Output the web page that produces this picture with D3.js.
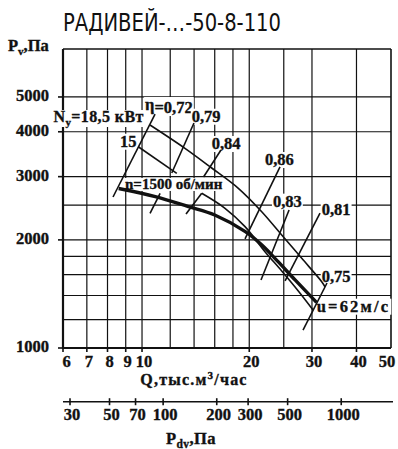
<!DOCTYPE html>
<html><head><meta charset="utf-8">
<script src="https://cdn.jsdelivr.net/npm/d3@7"></script>
<style>
body{margin:0;background:#fff;}
svg{display:block;}
text.b{stroke:#111;stroke-width:0.35px;}
</style></head><body>
<svg id="c" width="398" height="449"></svg>
<script>
// ---------- data ----------
const titleText = "РАДИВЕЙ-…-50-8-110";
const qTicks = [6, 7, 8, 9, 10, 20, 30, 40, 50];
const qGrid = [7, 8, 9, 10, 12, 14, 16, 18, 20, 25, 30, 40];
const pTicks = [1000, 2000, 3000, 4000, 5000];
const pGrid = [1200, 1400, 1600, 1800, 2000, 2500, 3000, 4000, 5000];
const pdvTicks = [30, 50, 70, 100, 200, 300, 500, 1000];

// thick pressure curve, n=1500 rpm
const mainQ = [8.6, 10.9, 13.5, 16.0, 19.5, 21.7, 24.1, 26.9, 30.9];
const mainP = [2780, 2640, 2475, 2346, 2108, 1935, 1739, 1547, 1340];
// upper thin curve
const upperQ = [10.53, 13.2, 15.69, 18.64, 21.68, 24.67, 28.08, 31.95, 32.63];
const upperP = [4177, 3597, 3171, 2784, 2396, 2064, 1777, 1530, 1481];
// lower thin curve
const lowerQ = [13.29, 14.71, 17.10, 19.46, 22.14, 24.67, 27.46, 30.2];
const lowerP = [2361, 2696, 2449, 2177, 1854, 1638, 1441, 1276];
// "15" segment
const n15Q = [9.76, 12.52];
const n15P = [3634, 3065];
// efficiency tick lines
const etaQ1 = [10.88, 13.99, 16.66, 24.40, 25.87, 31.60, 33.06, 11.24];
const etaP1 = [4482, 4231, 3558, 3192, 2422, 2376, 1517, 2696];
const etaQ2 = [8.29, 12.12, 14.88, 19.46, 21.58, 25.21, 28.31, 10.53];
const etaP2 = [2633, 3071, 2994, 2012, 1547, 1537, 1122, 2372];

// annotation labels (left edge Q, baseline P)
const labelText = ["η=0,72", "0,79", "0,84", "0,86", "0,83", "0,81", "0,75", "u=62м/с", "n=1500 об/мин", "15"];
const labelQ = [10.2, 13.79, 15.69, 22.14, 23.31, 31.95, 31.95, 30.93, 8.96, 8.67];
const labelP = [4511, 4266, 3581, 3232, 2475, 2346, 1527, 1262, 2772, 3634];

// ---------- layout ----------
const svg = d3.select("#c");
const L = 63, R = 391, T = 49, B = 348;
const x = d3.scaleLog().domain([6, 50]).range([L, R]);
const y = d3.scaleLog().domain([1000, 6800]).range([B, T]);
const kQ = 6.278 / Math.sqrt(30);
const xPdv = d3.scaleLog().domain([Math.pow(6 / kQ, 2), Math.pow(50 / kQ, 2)]).range([L, R]);

const serif = "'Liberation Serif','Times New Roman',serif";

// title
svg.append("text").attr("x", 63).attr("y", 31)
  .attr("font-family", "'Liberation Sans Narrow','DejaVu Sans Condensed','Roboto Condensed',sans-serif")
  .attr("font-size", 24).attr("fill", "#111")
  .attr("textLength", 218).attr("lengthAdjust", "spacingAndGlyphs")
  .text(titleText);

// grid
const g = svg.append("g");
g.selectAll("line.vg").data(qGrid).join("line")
  .attr("x1", d => x(d)).attr("x2", d => x(d)).attr("y1", T).attr("y2", B)
  .attr("stroke", "#111").attr("stroke-width", 1.2);
g.selectAll("line.hg").data(pGrid).join("line").attr("class","hg")
  .attr("x1", L).attr("x2", R).attr("y1", d => y(d)).attr("y2", d => y(d))
  .attr("stroke", "#111").attr("stroke-width", 1.2);

// frame
svg.append("line").attr("x1", L).attr("x2", R).attr("y1", T).attr("y2", T).attr("stroke", "#111").attr("stroke-width", 1.6);
svg.append("line").attr("x1", R).attr("x2", R).attr("y1", T).attr("y2", B).attr("stroke", "#111").attr("stroke-width", 1.6);
svg.append("line").attr("x1", L).attr("x2", L).attr("y1", T).attr("y2", B + 1).attr("stroke", "#111").attr("stroke-width", 2.2);
svg.append("line").attr("x1", L - 1).attr("x2", R).attr("y1", B).attr("y2", B).attr("stroke", "#111").attr("stroke-width", 2.2);

// y ticks + labels
svg.selectAll("line.yt").data(pTicks).join("line").attr("class","yt")
  .attr("x1", L - 5).attr("x2", L).attr("y1", d => y(d)).attr("y2", d => y(d))
  .attr("stroke", "#111").attr("stroke-width", 1.6);
svg.selectAll("text.yl").data(pTicks).join("text").attr("class","yl b")
  .attr("x", 49).attr("y", d => y(d) + 4)
  .attr("text-anchor", "end").attr("font-family", serif).attr("font-weight", "bold")
  .attr("font-size", 16.5).attr("fill", "#111").text(d => d);

// x ticks + labels
svg.selectAll("line.xt").data(qTicks.filter(d => d < 50)).join("line").attr("class","xt")
  .attr("x1", d => x(d)).attr("x2", d => x(d)).attr("y1", B).attr("y2", B + 4)
  .attr("stroke", "#111").attr("stroke-width", 1.6);
svg.selectAll("text.xl").data(qTicks).join("text").attr("class","xl b")
  .attr("x", d => x(d) + (d === 6 ? 3.5 : d === 50 ? -4 : 2)).attr("y", 367)
  .attr("text-anchor", "middle").attr("font-family", serif).attr("font-weight", "bold")
  .attr("font-size", 16.5).attr("fill", "#111").text(d => d);

// axis titles
const pv = svg.append("text").attr("class", "b").attr("x", 8).attr("y", 51).attr("font-family", serif)
  .attr("font-weight", "bold").attr("font-size", 16.5).attr("fill", "#111");
pv.append("tspan").text("P");
pv.append("tspan").attr("font-size", 11).attr("dy", 4).text("v");
pv.append("tspan").attr("dy", -4).text(",Па");

const qt = svg.append("text").attr("class", "b").attr("x", 194).attr("y", 385).attr("text-anchor", "middle")
  .attr("font-family", serif).attr("font-weight", "bold").attr("font-size", 16)
  .attr("letter-spacing", 1.2).attr("fill", "#111");
qt.append("tspan").text("Q,тыс.м");
qt.append("tspan").attr("font-size", 11).attr("dy", -6).text("3");
qt.append("tspan").attr("dy", 6).text("/час");

// Pdv axis
const ay = 401.7;
svg.append("line").attr("x1", L).attr("x2", 393).attr("y1", ay).attr("y2", ay).attr("stroke", "#111").attr("stroke-width", 1.6);
svg.selectAll("line.pt").data(pdvTicks).join("line").attr("class","pt")
  .attr("x1", d => xPdv(d)).attr("x2", d => xPdv(d)).attr("y1", ay - 3.5).attr("y2", ay + 3.5)
  .attr("stroke", "#111").attr("stroke-width", 1.6);
svg.selectAll("text.pl").data(pdvTicks).join("text").attr("class","pl b")
  .attr("x", d => xPdv(d) + 2).attr("y", 420)
  .attr("text-anchor", "middle").attr("font-family", serif).attr("font-weight", "bold")
  .attr("font-size", 16.5).attr("fill", "#111").text(d => d);
const pd = svg.append("text").attr("class", "b").attr("x", 166).attr("y", 444).attr("font-family", serif)
  .attr("font-weight", "bold").attr("font-size", 16.5).attr("letter-spacing", 0.4).attr("fill", "#111");
pd.append("tspan").text("P");
pd.append("tspan").attr("font-size", 11.5).attr("dy", 4).text("dv");
pd.append("tspan").attr("dy", -4).text(",Па");

// annotation labels with white knock-out background
const ann = svg.append("g");
function label(txt, px, py, size, spacing, parts) {
  const gg = ann.append("g");
  const t = gg.append("text").attr("class", "b").attr("x", px).attr("y", py)
    .attr("font-family", serif).attr("font-weight", "bold").attr("font-size", size)
    .attr("letter-spacing", spacing).attr("fill", "#111");
  if (parts) parts(t); else t.text(txt);
  const bb = t.node().getBBox();
  gg.insert("rect", "text").attr("x", bb.x - 1).attr("y", bb.y + 2).attr("width", bb.width + 2)
    .attr("height", bb.height - 3).attr("fill", "#fff");
}
// N label (left of plot area start)
label("", x(5.64), y(4258), 16, 0.4, t => {
  t.append("tspan").text("N");
  t.append("tspan").attr("font-size", 11).attr("dy", 4).text("y");
  t.append("tspan").attr("dy", -4).text("=18,5 кВт");
});
labelText.forEach((s, i) => {
  const size = (i === 8) ? 15 : 16.5;
  const sp = (i === 7) ? 2.2 : 0;
  if (i === 0) {
    label("", x(labelQ[i]), y(labelP[i]), size, 0, t => {
      t.append("tspan").attr("dy", -3).text("η");
      t.append("tspan").attr("dy", 3).text("=0,72");
    });
  } else {
    label(s, x(labelQ[i]), y(labelP[i]), size, sp);
  }
});

// curves
const line = d3.line().x(d => x(d[0])).y(d => y(d[1])).curve(d3.curveCatmullRom.alpha(0.5));
const seg = d3.line().x(d => x(d[0])).y(d => y(d[1]));
const zip = (a, b) => a.map((v, i) => [v, b[i]]);

svg.append("path").attr("d", line(zip(upperQ, upperP))).attr("fill", "none").attr("stroke", "#111").attr("stroke-width", 1.6);
svg.append("path").attr("d", seg(zip(lowerQ.slice(0, 2), lowerP.slice(0, 2)))).attr("fill", "none").attr("stroke", "#111").attr("stroke-width", 1.6);
svg.append("path").attr("d", line(zip(lowerQ.slice(1), lowerP.slice(1)))).attr("fill", "none").attr("stroke", "#111").attr("stroke-width", 1.6);
svg.append("path").attr("d", seg(zip(n15Q, n15P))).attr("fill", "none").attr("stroke", "#111").attr("stroke-width", 1.6);
etaQ1.forEach((q, i) => {
  svg.append("path").attr("d", seg([[q, etaP1[i]], [etaQ2[i], etaP2[i]]]))
    .attr("fill", "none").attr("stroke", "#111").attr("stroke-width", 1.6);
});
svg.append("path").attr("d", line(zip(mainQ, mainP))).attr("fill", "none").attr("stroke", "#111").attr("stroke-width", 3.4);
</script>
</body></html>
